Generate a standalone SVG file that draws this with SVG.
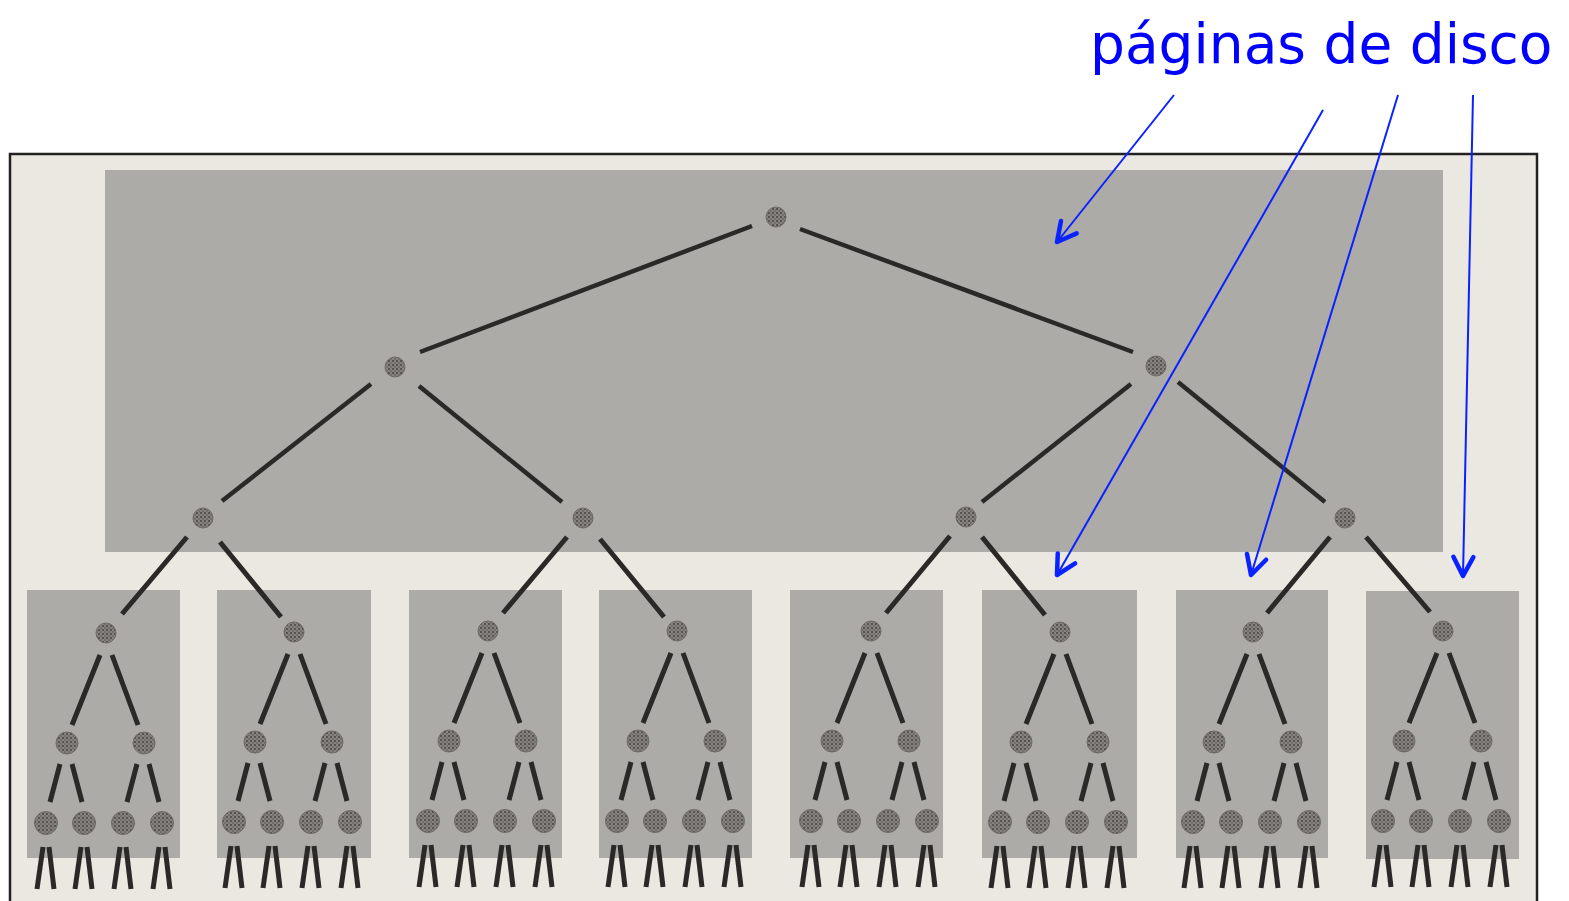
<svg xmlns="http://www.w3.org/2000/svg" xmlns:xlink="http://www.w3.org/1999/xlink" width="1569" height="901" viewBox="0 0 1569 901">
<style>
.page{fill:#adaba7}
.edge{stroke:#2b2927;stroke-width:5;stroke-linecap:butt;fill:none}
.topedge{stroke:#2b2927;stroke-width:4.5;fill:none}
.node{fill:url(#speckle);stroke:#6e6b68;stroke-width:1}
.arrow{stroke:#0a22ff;stroke-width:2;fill:none;marker-end:url(#head)}
.label{font-family:"DejaVu Sans",Verdana,sans-serif;font-size:55px;fill:#0000ff}
</style>
<defs>
<pattern id="speckle" width="4" height="4" patternUnits="userSpaceOnUse">
<rect width="4" height="4" fill="#878480"/>
<circle cx="1" cy="1" r="1" fill="#464341"/>
<circle cx="3" cy="3" r="0.8" fill="#55524f"/>
</pattern>
<marker id="head" markerUnits="userSpaceOnUse" viewBox="-26 -16 30 32" markerWidth="30" markerHeight="32" refX="0" refY="0" orient="auto">
<path d="M-19,-10 L0,0 L-19,10" fill="none" stroke="#0a22ff" stroke-width="4.5" stroke-linejoin="round" stroke-linecap="round"/>
</marker>
<g id="pg-edges">
<line x1="-6" y1="22" x2="-34" y2="92"/>
<line x1="6" y1="22" x2="32" y2="92"/>
<line x1="-46" y1="131" x2="-56" y2="169"/>
<line x1="-34" y1="131" x2="-24" y2="169"/>
<line x1="31" y1="131" x2="21" y2="169"/>
<line x1="43" y1="131" x2="53" y2="169"/>
<line x1="-63" y1="214" x2="-69" y2="256"/>
<line x1="-57" y1="214" x2="-52" y2="256"/>
<line x1="-25" y1="214" x2="-31" y2="256"/>
<line x1="-19" y1="214" x2="-14" y2="256"/>
<line x1="14" y1="214" x2="8" y2="256"/>
<line x1="20" y1="214" x2="25" y2="256"/>
<line x1="53" y1="214" x2="47" y2="256"/>
<line x1="59" y1="214" x2="64" y2="256"/>
</g>
<g id="pg-nodes">
<circle cx="0" cy="0" r="10"/>
<circle cx="-39" cy="110" r="11"/>
<circle cx="38" cy="110" r="11"/>
<circle cx="-60" cy="190" r="11.5"/>
<circle cx="-22" cy="190" r="11.5"/>
<circle cx="17" cy="190" r="11.5"/>
<circle cx="56" cy="190" r="11.5"/>
</g>
</defs>

<rect x="0" y="0" width="1569" height="901" fill="#ffffff"/>
<rect x="10" y="154" width="1527" height="760" fill="#ebe8e2" stroke="#242220" stroke-width="2.5"/>

<g id="page-root">
<rect class="page" x="105" y="170" width="1338" height="382"/>
</g>
<g id="page-1"><rect class="page" x="27" y="590" width="153" height="268"/></g>
<g id="page-2"><rect class="page" x="217" y="590" width="154" height="268"/></g>
<g id="page-3"><rect class="page" x="409" y="590" width="153" height="268"/></g>
<g id="page-4"><rect class="page" x="599" y="590" width="153" height="268"/></g>
<g id="page-5"><rect class="page" x="790" y="590" width="153" height="268"/></g>
<g id="page-6"><rect class="page" x="982" y="590" width="155" height="268"/></g>
<g id="page-7"><rect class="page" x="1176" y="590" width="152" height="268"/></g>
<g id="page-8"><rect class="page" x="1366" y="591" width="153" height="268"/></g>

<g id="connectors">
<g class="topedge">
<line x1="752" y1="226" x2="420" y2="352"/>
<line x1="800" y1="229" x2="1133" y2="352"/>
<line x1="371" y1="384" x2="222" y2="501"/>
<line x1="419" y1="386" x2="562" y2="502"/>
<line x1="1131" y1="384" x2="982" y2="502"/>
<line x1="1178" y1="382" x2="1325" y2="502"/>
</g>
<g class="edge">
<line x1="187" y1="537" x2="122" y2="614"/>
<line x1="220" y1="542" x2="281" y2="617"/>
<line x1="567" y1="537" x2="503" y2="613"/>
<line x1="600" y1="539" x2="664" y2="617"/>
<line x1="950" y1="536" x2="886" y2="613"/>
<line x1="982" y1="537" x2="1045" y2="615"/>
<line x1="1330" y1="537" x2="1267" y2="613"/>
<line x1="1366" y1="537" x2="1430" y2="612"/>
</g>
<g class="edge">
<use xlink:href="#pg-edges" transform="translate(106,633)"/>
<use xlink:href="#pg-edges" transform="translate(294,632)"/>
<use xlink:href="#pg-edges" transform="translate(488,631)"/>
<use xlink:href="#pg-edges" transform="translate(677,631)"/>
<use xlink:href="#pg-edges" transform="translate(871,631)"/>
<use xlink:href="#pg-edges" transform="translate(1060,632)"/>
<use xlink:href="#pg-edges" transform="translate(1253,632)"/>
<use xlink:href="#pg-edges" transform="translate(1443,631)"/>
</g>
</g>

<g id="tree-nodes" class="node">
<circle id="n-root" cx="776" cy="217" r="10"/>
<circle id="n-l" cx="395" cy="367" r="10"/>
<circle id="n-r" cx="1156" cy="366" r="10"/>
<circle id="n-ll" cx="203" cy="518" r="10"/>
<circle id="n-lr" cx="583" cy="518" r="10"/>
<circle id="n-rl" cx="966" cy="517" r="10"/>
<circle id="n-rr" cx="1345" cy="518" r="10"/>
<use id="sub-1" xlink:href="#pg-nodes" transform="translate(106,633)"/>
<use id="sub-2" xlink:href="#pg-nodes" transform="translate(294,632)"/>
<use id="sub-3" xlink:href="#pg-nodes" transform="translate(488,631)"/>
<use id="sub-4" xlink:href="#pg-nodes" transform="translate(677,631)"/>
<use id="sub-5" xlink:href="#pg-nodes" transform="translate(871,631)"/>
<use id="sub-6" xlink:href="#pg-nodes" transform="translate(1060,632)"/>
<use id="sub-7" xlink:href="#pg-nodes" transform="translate(1253,632)"/>
<use id="sub-8" xlink:href="#pg-nodes" transform="translate(1443,631)"/>
</g>

<g id="label">
<text class="label" x="1090" y="63">páginas de disco</text>
</g>
<g id="label-arrows">
<line class="arrow" x1="1174" y1="95" x2="1057" y2="242"/>
<line class="arrow" x1="1323" y1="110" x2="1057" y2="575"/>
<line class="arrow" x1="1398" y1="95" x2="1251" y2="575"/>
<line class="arrow" x1="1473" y1="95" x2="1463" y2="576"/>
</g>
</svg>
